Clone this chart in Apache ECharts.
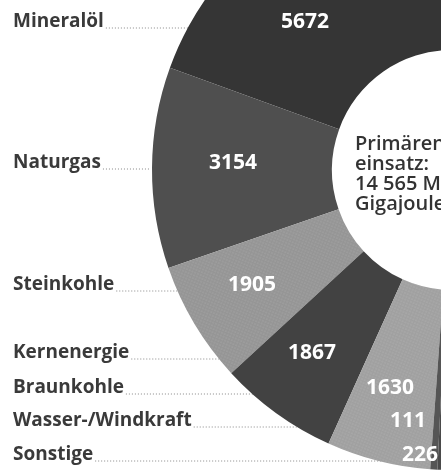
<!DOCTYPE html>
<html><head><meta charset="utf-8">
<script src="https://cdn.jsdelivr.net/npm/echarts@6/dist/echarts.min.js"></script>
<style>html,body{margin:0;padding:0;background:#fff}#c{width:441px;height:470px}</style>
</head><body><div id="c"></div>
<script>
// ---- data ----
const categories = ['Mineralöl', 'Naturgas', 'Steinkohle', 'Kernenergie', 'Braunkohle', 'Wasser-/Windkraft', 'Sonstige'];
const values = [5672, 3154, 1905, 1867, 1630, 111, 226];
const centerText = 'Primärenergie-\neinsatz:\n14 565 Mio.\nGigajoule';

// ---- styling / layout ----
const sliceColors = ['#353535', '#4f4f4f', '#959595', '#424242', '#a0a0a0', '#555555', '#4a4a4a'];
const textured = [false, false, true, false, true, false, false];
const valuePos = [[305, 22], [233, 163], [252, 285], [312, 353], [390, 388], [408, 421], [420, 455]];
const leaderEnd = [193, 150, 228, 288, 365, 390, 402];
const nameX = 13;
const FONT = '"Open Sans", sans-serif';

const halftone = { symbol: 'circle', symbolSize: 0.6, dashArrayX: [2, 1], dashArrayY: [2, 1], color: 'rgba(255,255,255,0.28)', rotation: 0.4 };

const pieData = categories.map((c, i) => ({
  name: c, value: values[i],
  itemStyle: Object.assign({ color: sliceColors[i] }, textured[i] ? { decal: halftone } : {})
}));
const ghostData = categories.map((c, i) => ({ name: c, value: values[i] }));

const common = {
  type: 'pie', center: [452, 170], radius: [120, 300],
  startAngle: 90, endAngle: 270, clockwise: false,
  avoidLabelOverlap: false, minShowLabelAngle: 0, animation: false
};

const chart = echarts.init(document.getElementById('c'), null, { renderer: 'canvas' });
chart.setOption({
  backgroundColor: '#ffffff',
  title: {
    text: centerText, left: 355, top: 134, padding: 0,
    textStyle: { fontFamily: FONT, fontSize: 20, fontWeight: 600, color: '#333', lineHeight: 20 }
  },
  series: [
    Object.assign({}, common, {
      name: 'names', z: 1, silent: true,
      data: ghostData,
      itemStyle: { color: 'rgba(0,0,0,0)' },
      label: { show: true, position: 'outside', formatter: '{b}', fontFamily: FONT, fontSize: 19, fontWeight: 700, color: '#3a3a3a' },
      labelLine: { show: true, lineStyle: { color: '#888', width: 1, type: [1, 2] } },
      labelLayout: function (p) {
        const i = p.dataIndex;
        const y = valuePos[i][1];
        const w = p.labelRect.width;
        const ly = y + 6;
        return {
          x: nameX, y: y, align: 'left', verticalAlign: 'middle',
          labelLinePoints: [[nameX + w + 2, ly], [(nameX + w + leaderEnd[i]) / 2, ly], [leaderEnd[i], ly]]
        };
      }
    }),
    Object.assign({}, common, {
      name: 'values', z: 2,
      data: pieData,
      itemStyle: { borderWidth: 0 },
      label: { show: true, position: 'inside', formatter: '{c}', fontFamily: FONT, fontSize: 21, fontWeight: 700, color: '#ffffff' },
      labelLine: { show: false },
      labelLayout: function (p) {
        const i = p.dataIndex;
        return { x: valuePos[i][0], y: valuePos[i][1], align: 'center', verticalAlign: 'middle' };
      }
    })
  ]
});
</script>
</body></html>
